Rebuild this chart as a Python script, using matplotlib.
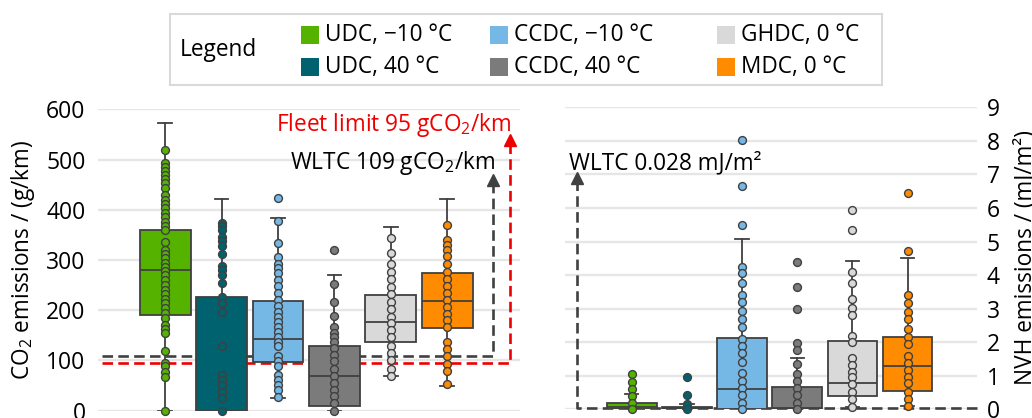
import matplotlib
matplotlib.use('Agg')
import matplotlib.pyplot as plt
from matplotlib.patches import Rectangle

plt.rcParams['font.family'] = ['Open Sans', 'DejaVu Sans']
plt.rcParams['mathtext.fontset'] = 'custom'
plt.rcParams['mathtext.rm'] = 'Open Sans'
plt.rcParams['mathtext.default'] = 'regular'

# Drive cycles / ambient temperatures
labels = ['UDC, −10 °C', 'UDC, 40 °C', 'CCDC, −10 °C', 'CCDC, 40 °C', 'GHDC, 0 °C', 'MDC, 0 °C']
colors = ['#55b300', '#00626e', '#75b8e6', '#7b7b7b', '#d9d9d9', '#ff8c00']

# Box statistics: (whisker low, Q1, median, Q3, whisker high)
co2_stats = [
    (0, 190, 280, 360, 572),
    (0, 0, 0, 227, 421),
    (25, 96, 142, 219, 384),
    (0, 9, 69, 129, 270),
    (69, 137, 177, 231, 366),
    (49, 165, 219, 274, 421),
]
nvh_stats = [
    (0, 0, 0.06, 0.2, 0.46),
    (0, 0, 0.02, 0.07, 0.16),
    (0, 0, 0.6, 2.12, 5.07),
    (0, 0, 0.04, 0.67, 1.52),
    (0.06, 0.4, 0.79, 2.04, 4.43),
    (0.1, 0.56, 1.29, 2.16, 4.5),
]

# Single runs, CO2 in g/km
co2_udc_m10 = [519, 493, 486, 478, 469, 461, 453, 443, 430, 420, 412, 403, 393, 385,
               376, 368, 360, 335, 320, 312, 303, 295, 287, 279, 270, 260, 250, 240,
               232, 222, 214, 204, 194, 184, 171, 162, 154, 118, 94, 88, 78, 68, 0]
co2_udc_40 = [374, 367, 359, 345, 337, 327, 312, 288, 280, 270, 254, 227, 214, 197,
              129, 71, 61, 51, 38, 25, 0]
co2_ccdc_m10 = [423, 378, 333, 305, 293, 284, 274, 260, 248, 235, 220, 208, 197, 187,
                177, 167, 157, 147, 137, 128, 108, 98, 88, 71, 61, 51, 41, 28]
co2_ccdc_40 = [320, 252, 216, 189, 166, 155, 146, 136, 124, 111, 98, 84, 70, 56, 42,
               29, 15, 0]
co2_ghdc = [343, 313, 292, 277, 262, 247, 232, 217, 202, 187, 174, 161, 146, 129, 114,
            100, 84, 69]
co2_mdc = [370, 340, 330, 320, 307, 292, 276, 262, 248, 234, 220, 206, 193, 180, 167,
           136, 122, 108, 93, 80, 54]

# Single runs, NVH in mJ/m2
nvh_udc_m10 = [1.05, 0.82, 0.6, 0.4, 0.18, 0.0]
nvh_udc_40 = [0.95, 0.44, 0.16, 0.0]
nvh_ccdc_m10 = [8.02, 6.65, 5.49, 4.25, 4.07, 3.75, 3.41, 3.21, 2.94, 2.68, 2.46, 2.09,
                1.89, 1.67, 1.42, 1.07, 0.85, 0.63, 0.43, 0.2, 0.0]
nvh_ccdc_40 = [4.39, 3.63, 2.98, 1.99, 1.77, 1.35, 1.05, 0.85, 0.63, 0.43, 0.2, 0.0]
nvh_ghdc = [5.94, 5.34, 4.1, 3.75, 3.28, 3.01, 2.81, 2.18, 2.02, 1.52, 1.32, 1.12,
            0.95, 0.75, 0.53, 0.3, 0.06]
nvh_mdc = [6.45, 4.73, 3.41, 3.16, 2.91, 2.68, 2.38, 2.14, 1.95, 1.59, 1.39, 1.17,
           0.97, 0.77, 0.53, 0.3, 0.1]

co2_points = [co2_udc_m10, co2_udc_40, co2_ccdc_m10, co2_ccdc_40, co2_ghdc, co2_mdc]
nvh_points = [nvh_udc_m10, nvh_udc_40, nvh_ccdc_m10, nvh_ccdc_40, nvh_ghdc, nvh_mdc]

# Reference values
fleet_limit = 95
wltc_co2 = 109
wltc_nvh = 0.028

W, H = 1032, 418
EDGE = '#404040'
RED = '#ee0000'
FS = 16.3


def fx(px):
    return px / W


def fy(py):
    return 1 - py / H


fig = plt.figure(figsize=(W / 100, H / 100), dpi=100)
ax1 = fig.add_axes([fx(98), fy(410.7), 422 / W, 301.4 / H])
ax2 = fig.add_axes([fx(565), fy(409.3), 412 / W, 302 / H])


def draw_boxes(ax, stats, points):
    bstats = [dict(whislo=s[0], q1=s[1], med=s[2], q3=s[3], whishi=s[4], fliers=[])
              for s in stats]
    bp = ax.bxp(bstats, positions=range(len(stats)), widths=0.9, capwidths=0.24,
                patch_artist=True, showfliers=False,
                boxprops=dict(edgecolor=EDGE, linewidth=1.3),
                medianprops=dict(color=EDGE, linewidth=1.3),
                whiskerprops=dict(color=EDGE, linewidth=1.3),
                capprops=dict(color=EDGE, linewidth=1.3))
    for box, c in zip(bp['boxes'], colors):
        box.set_facecolor(c)
        box.set_zorder(2)
    # individual runs on top of each box
    for i, (vals, c) in enumerate(zip(points, colors)):
        ax.scatter([i] * len(vals), vals, s=32, color=c, edgecolor=EDGE,
                   linewidth=1.0, zorder=4, clip_on=False)


def style_axis(ax):
    for sp in ax.spines.values():
        sp.set_visible(False)
    ax.set_xticks([])
    ax.tick_params(axis='y', length=0, labelsize=16.5)
    ax.grid(axis='y', color='#e6e6e6', linewidth=1.7)
    ax.set_axisbelow(True)


draw_boxes(ax1, co2_stats, co2_points)
draw_boxes(ax2, nvh_stats, nvh_points)
style_axis(ax1)
style_axis(ax2)

ax1.set_xlim(-1.19, 6.29)
ax1.set_ylim(0, 600)
ax1.set_yticks(range(0, 601, 100))
ax1.tick_params(axis='y', pad=9)

ax2.set_xlim(-1.21, 6.26)
ax2.set_ylim(0, 9)
ax2.set_yticks(range(0, 10))
ax2.yaxis.tick_right()
ax2.tick_params(axis='y', pad=7)

# Reference lines with arrows
dash = (0, (4, 2))
ax1.plot([-1.12, 5.81, 5.81], [wltc_co2, wltc_co2, 452], color=EDGE, lw=1.9,
         ls=dash, zorder=1.5)
ax1.plot(5.81, 459, marker='^', ms=8, color=EDGE, zorder=1.5, clip_on=False)
ax1.plot([-1.12, 6.12, 6.12], [fleet_limit, fleet_limit, 532], color=RED, lw=1.9,
         ls=dash, zorder=1.6)
ax1.plot(6.12, 539, marker='^', ms=8, color=RED, zorder=1.6, clip_on=False)
ax1.text(6.15, 569, f'Fleet limit {fleet_limit} gCO$_2$/km', color=RED,
         fontsize=FS, ha='right', va='center')
ax1.text(5.84, 493, f'WLTC {wltc_co2} gCO$_2$/km', color='black',
         fontsize=FS, ha='right', va='center')

ax2.plot([6.26, -1.0, -1.0], [wltc_nvh, wltc_nvh, 6.7], color=EDGE, lw=1.9,
         ls=dash, zorder=1.5, clip_on=False)
ax2.plot(-1.0, 6.9, marker='^', ms=8, color=EDGE, zorder=1.5, clip_on=False)
ax2.text(-1.14, 7.33, f'WLTC {wltc_nvh} mJ/m²', color='black',
         fontsize=FS, ha='left', va='center')

# Axis labels
fig.text(fx(23), fy(260), r'CO$_2$ emissions / (g/km)', rotation=90,
         ha='center', va='center', fontsize=FS)
fig.text(fx(1025), fy(258), 'NVH emissions / (mJ/m²)', rotation=90,
         ha='center', va='center', fontsize=FS)

# Legend box
fig.add_artist(Rectangle((fx(170), fy(85)), 712 / W, 71 / H, transform=fig.transFigure,
                         facecolor='white', edgecolor='#d9d9d9', linewidth=1.5))
fig.text(fx(180), fy(50), 'Legend', ha='left', va='center', fontsize=FS)
col_x = [301, 490, 717]
row_y = [26, 58]
for i, (lab, c) in enumerate(zip(labels, colors)):
    x0 = col_x[i // 2]
    y0 = row_y[i % 2]
    fig.add_artist(Rectangle((fx(x0), fy(y0 + 18)), 18 / W, 18 / H,
                             transform=fig.transFigure, facecolor=c, edgecolor='none'))
    fig.text(fx(x0 + 24), fy(y0 + 9), lab, ha='left', va='center', fontsize=FS)

fig.savefig('out.png', dpi=100)
plt.close(fig)
